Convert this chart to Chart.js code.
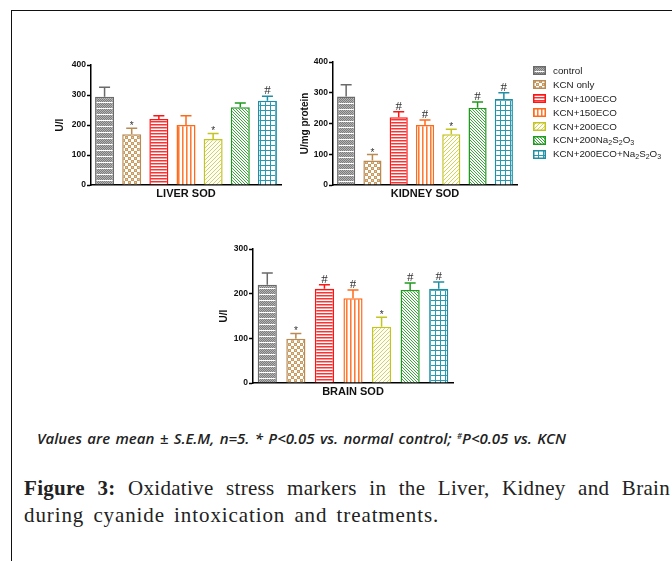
<!DOCTYPE html>
<html>
<head>
<meta charset="utf-8">
<script src="https://cdn.jsdelivr.net/npm/chart.js@4.4.1/dist/chart.umd.min.js"></script>
<style>
  body { margin: 0; background: #fff; width: 672px; height: 561px; overflow: hidden; position: relative; font-family: "Liberation Sans", Arial, sans-serif; }
  .frame { position: absolute; left: 11px; top: 10px; width: 700px; height: 600px; border-left: 1.5px solid #111; border-top: 1.5px solid #111; }
  canvas { position: absolute; }
  #legend { position: absolute; left: 533px; top: 63px; font-size: 9.8px; color: #222; }
  #legend .row { height: 14px; display: flex; align-items: center; white-space: nowrap; }
  #legend canvas { position: static; margin-right: 7px; }
  #legend sub { font-size: 7px; vertical-align: -2px; }
  .note { position: absolute; left: 37px; top: 428px; font: italic 600 15px "Open Sans", sans-serif; word-spacing: 1.5px; color: #222; white-space: nowrap; }
  .note sup { font-size: 8px; vertical-align: 5px; }
  .cap { position: absolute; left: 24px; font: 21px "Liberation Serif", serif; letter-spacing: 0.9px; word-spacing: 3px; color: #222; white-space: nowrap; }
</style>
</head>
<body>
<div class="frame"></div>
<canvas id="liver" width="240" height="150" style="left:50px;top:55px"></canvas>
<canvas id="kidney" width="240" height="155" style="left:290px;top:50px"></canvas>
<canvas id="brain" width="260" height="168" style="left:210px;top:235px"></canvas>
<div id="legend"></div>
<div class="note">Values are mean ± S.E.M, n=5. * P&lt;0.05 vs. normal control; <sup>#</sup>P&lt;0.05 vs. KCN</div>
<div class="cap" style="top:476px;width:646px;white-space:normal;text-align:justify;text-align-last:justify;letter-spacing:0.3px;word-spacing:0"><b>Figure 3:</b> Oxidative stress markers in the Liver, Kidney and Brain</div>
<div class="cap" style="top:503px">during cyanide intoxication and treatments.</div>
<script>
// groups
const groups = ['control', 'KCN only', 'KCN+100ECO', 'KCN+150ECO', 'KCN+200ECO', 'KCN+200Na2S2O3', 'KCN+200ECO+Na2S2O3'];
const groupsHtml = ['control', 'KCN only', 'KCN+100ECO', 'KCN+150ECO', 'KCN+200ECO',
  'KCN+200Na<sub>2</sub>S<sub>2</sub>O<sub>3</sub>', 'KCN+200ECO+Na<sub>2</sub>S<sub>2</sub>O<sub>3</sub>'];

// liver SOD (U/l)
const liverMean = [294, 169, 220, 200, 153, 259, 281];
const liverSem = [32, 20, 11, 31, 19, 14, 15];
const liverSig = ['', '*', '', '', '*', '', '#'];

// kidney SOD (U/mg protein)
const kidneyMean = [288, 80, 220, 195, 165, 251, 280];
const kidneySem = [38, 19, 18, 16, 16, 19, 20];
const kidneySig = ['', '*', '#', '#', '*', '#', '#'];

// brain SOD (U/l)
const brainMean = [220, 99, 211, 190, 126, 208, 211];
const brainSem = [26, 12, 9, 18, 21, 16, 15];
const brainSig = ['', '*', '#', '#', '*', '#', '#'];

const borderColors = ['#6a6a6a', '#b98a52', '#ff1414', '#ff6a1a', '#c4c420', '#1f9a1f', '#1f8ea4'];

function makePattern(kind, color) {
  const c = document.createElement('canvas');
  const g = c.getContext('2d');
  let s = 4;
  if (kind === 'dots') {
    c.width = 2; c.height = 6;
    g.fillStyle = '#fff'; g.fillRect(0, 0, 2, 6);
    g.fillStyle = '#7c7c7c';
    for (let y = 0; y < 5; y++) g.fillRect((y % 2), y, 1, 1);
    g.fillStyle = '#b5b5b5';
    for (let y = 0; y < 5; y++) g.fillRect(1 - (y % 2), y, 1, 1);
  } else if (kind === 'checker') {
    c.width = 6; c.height = 6;
    g.fillStyle = '#fff'; g.fillRect(0, 0, 6, 6);
    g.fillStyle = '#c99c63';
    g.fillRect(0, 0, 3, 3); g.fillRect(3, 3, 3, 3);
    g.fillStyle = '#e2c7a2';
    g.fillRect(1, 1, 1, 1); g.fillRect(4, 4, 1, 1);
  } else if (kind === 'hlines') {
    c.width = 1; c.height = 3;
    g.fillStyle = '#fff'; g.fillRect(0, 0, 1, 3);
    g.fillStyle = color; g.fillRect(0, 0, 1, 1);
    g.fillStyle = '#ff9a9a'; g.fillRect(0, 1, 1, 1);
  } else if (kind === 'vlines') {
    c.width = 4; c.height = 1;
    g.fillStyle = '#fff'; g.fillRect(0, 0, 4, 1);
    g.fillStyle = color; g.fillRect(0, 0, 1, 1);
    g.fillStyle = '#ffb48a'; g.fillRect(1, 0, 1, 1);
  } else if (kind === 'diagUp' || kind === 'diagDown') {
    s = kind === 'diagUp' ? 4 : 3;
    c.width = s; c.height = s;
    g.fillStyle = '#fff'; g.fillRect(0, 0, s, s);
    g.fillStyle = color;
    for (let i = 0; i < s; i++) {
      const x = kind === 'diagUp' ? s - 1 - i : i;
      g.fillRect(x, i, 1, 1);
    }
  } else if (kind === 'grid') {
    c.width = 5; c.height = 5;
    g.fillStyle = '#fff'; g.fillRect(0, 0, 5, 5);
    g.fillStyle = color;
    g.fillRect(0, 0, 5, 1); g.fillRect(0, 0, 1, 5);
  }
  return g.createPattern(c, 'repeat');
}

const patternKinds = ['dots', 'checker', 'hlines', 'vlines', 'diagUp', 'diagDown', 'grid'];
const fillColors = ['#8c8c8c', '#c99c63', '#ff3030', '#ff7a30', '#d4d450', '#3aa83a', '#2a9ab0'];
const patterns = patternKinds.map((k, i) => makePattern(k, fillColors[i]));

// error bars (upper only) and significance marks
const errorBars = {
  id: 'errorBars',
  afterDatasetsDraw(chart, args, opts) {
    const ctx = chart.ctx;
    const y = chart.scales.y;
    const meta = chart.getDatasetMeta(0);
    meta.data.forEach((bar, i) => {
      const top = y.getPixelForValue(opts.mean[i] + opts.sem[i]);
      ctx.save();
      ctx.strokeStyle = borderColors[i];
      ctx.lineWidth = 1.5;
      ctx.beginPath();
      ctx.moveTo(bar.x, bar.y);
      ctx.lineTo(bar.x, top);
      ctx.moveTo(bar.x - 5.5, top);
      ctx.lineTo(bar.x + 5.5, top);
      ctx.stroke();
      if (opts.sig[i]) {
        ctx.fillStyle = '#333';
        ctx.textAlign = 'center';
        ctx.textBaseline = 'alphabetic';
        if (opts.sig[i] === '#') {
          ctx.font = '13px "Liberation Serif", serif';
          ctx.fillText('#', bar.x, top - 2);
        } else {
          ctx.font = '10px "Liberation Sans", sans-serif';
          ctx.fillText('*', bar.x, top + 1);
        }
      }
      ctx.restore();
    });
  }
};

function makeChart(id, mean, sem, sig, yTitle, xTitle, yMax, pad, titlePad, barPct) {
  return new Chart(document.getElementById(id), {
    type: 'bar',
    data: {
      labels: groups,
      datasets: [{
        data: mean,
        backgroundColor: patterns,
        borderColor: borderColors,
        borderWidth: 1.5,
        barPercentage: barPct,
        categoryPercentage: 1
      }]
    },
    plugins: [errorBars],
    options: {
      responsive: false,
      animation: false,
      layout: { padding: pad },
      plugins: {
        legend: { display: false },
        tooltip: { enabled: false },
        errorBars: { mean: mean, sem: sem, sig: sig }
      },
      scales: {
        x: {
          grid: { display: false },
          ticks: { display: false },
          border: { color: '#000', width: 1.5 },
          title: {
            display: true,
            text: xTitle,
            color: '#111',
            font: { family: '"Liberation Sans", Arial', size: 11, weight: 'bold' },
            padding: { top: 0, bottom: 4 }
          },
          afterFit: s => { s.height = 20; }
        },
        y: {
          min: 0,
          max: yMax,
          ticks: {
            stepSize: 100,
            padding: 1,
            color: '#111',
            font: { family: '"Liberation Sans", Arial', size: 8.5, weight: 'bold' }
          },
          grid: { drawOnChartArea: false, drawTicks: true, tickLength: 4, tickColor: '#000', tickWidth: 1.5 },
          border: { color: '#000', width: 1.5 },
          title: {
            display: true,
            text: yTitle,
            color: '#111',
            font: { family: '"Liberation Sans", Arial', size: 10, weight: 'bold' },
            padding: { top: titlePad, bottom: 0 }
          },
          afterFit: s => { s.width = pad.yw; }
        }
      }
    }
  });
}

makeChart('liver', liverMean, liverSem, liverSig, 'U/l', 'LIVER SOD', 400,
  { top: 10, right: 9, left: 0, bottom: 0, yw: 41 }, 4, 0.7);
makeChart('kidney', kidneyMean, kidneySem, kidneySig, 'U/mg protein', 'KIDNEY SOD', 400,
  { top: 12, right: 13, left: 0, bottom: 0, yw: 43 }, 9, 0.69);
makeChart('brain', brainMean, brainSem, brainSig, 'U/l', 'BRAIN SOD', 300,
  { top: 14, right: 17, left: 0, bottom: 0, yw: 43 }, 8, 0.67);

// legend
const legend = document.getElementById('legend');
groups.forEach((g, i) => {
  const row = document.createElement('div');
  row.className = 'row';
  const sw = document.createElement('canvas');
  sw.width = 13; sw.height = 9;
  const c = sw.getContext('2d');
  c.fillStyle = patterns[i];
  c.fillRect(0, 0, 13, 9);
  c.strokeStyle = borderColors[i];
  c.lineWidth = 1.5;
  c.strokeRect(0.75, 0.75, 11.5, 7.5);
  row.appendChild(sw);
  const t = document.createElement('span');
  t.innerHTML = groupsHtml[i];
  row.appendChild(t);
  legend.appendChild(row);
});
</script>
</body>
</html>
